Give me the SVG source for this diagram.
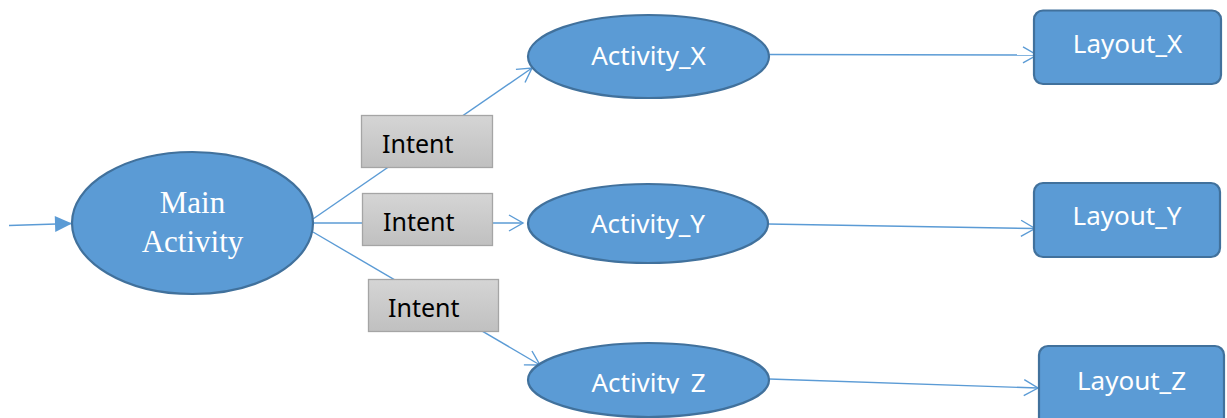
<svg xmlns="http://www.w3.org/2000/svg" width="1227" height="418" viewBox="0 0 1227 418">
  <style>
    .node { fill: #5B9BD5; stroke: #41719C; stroke-width: 2.2; }
    .intent { fill: url(#intentFill); stroke: #A5A5A5; stroke-width: 1.3; }
    .wire { fill: none; stroke: #5B9BD5; stroke-width: 1.4; }
    .label { font-family: "Noto Sans", "Open Sans", sans-serif; font-size: 26px; fill: #FFFFFF; text-anchor: middle; }
    .serif { font-family: "Liberation Serif", "Times New Roman", serif; font-size: 31px; fill: #FFFFFF; text-anchor: middle; }
    .intentText { font-family: "Noto Sans", "Open Sans", sans-serif; font-size: 25px; fill: #000000; }
  </style>
  <defs>
    <linearGradient id="intentFill" x1="0" y1="0" x2="0" y2="1">
      <stop offset="0" stop-color="#D5D5D5"/>
      <stop offset="1" stop-color="#C0C0C0"/>
    </linearGradient>
    <marker id="open" markerUnits="userSpaceOnUse" markerWidth="20" markerHeight="20" refX="0" refY="0" viewBox="-16 -10 18 20" orient="auto">
      <path d="M-14,-8 L0,0 L-14,8" fill="none" stroke="#5B9BD5" stroke-width="1.4"/>
    </marker>
    <marker id="solid" markerUnits="userSpaceOnUse" markerWidth="20" markerHeight="20" refX="0" refY="0" viewBox="-18 -10 20 20" orient="auto">
      <path d="M-17,-8 L0,0 L-17,8 Z" fill="#5B9BD5"/>
    </marker>
    <clipPath id="zClip">
      <rect x="500" y="330" width="300" height="63.5"/>
    </clipPath>
  </defs>

  <!-- connectors -->
  <g id="connectors">
    <line class="wire" x1="9" y1="225.5" x2="72" y2="223.5" marker-end="url(#solid)"/>
    <line class="wire" x1="313" y1="219" x2="532" y2="68" marker-end="url(#open)"/>
    <line class="wire" x1="313" y1="223" x2="523" y2="223" marker-end="url(#open)"/>
    <line class="wire" x1="313" y1="232" x2="540" y2="365" marker-end="url(#open)"/>
    <line class="wire" x1="769" y1="54.5" x2="1037" y2="55" marker-end="url(#open)"/>
    <line class="wire" x1="768" y1="224" x2="1035" y2="228.5" marker-end="url(#open)"/>
    <line class="wire" x1="769" y1="379" x2="1038" y2="388" marker-end="url(#open)"/>
  </g>

  <!-- main activity -->
  <g id="main-activity">
    <ellipse class="node" cx="192.5" cy="223" rx="120.5" ry="71"/>
    <text class="serif" x="192.5" y="213">Main</text>
    <text class="serif" x="192.5" y="252">Activity</text>
  </g>

  <!-- intent boxes -->
  <g id="intent-x">
    <rect class="intent" x="361.5" y="115.5" width="131" height="52"/>
    <text class="intentText" x="382" y="153">Intent</text>
  </g>
  <g id="intent-y">
    <rect class="intent" x="362.5" y="193.5" width="130" height="52"/>
    <text class="intentText" x="383" y="231">Intent</text>
  </g>
  <g id="intent-z">
    <rect class="intent" x="368.5" y="279.5" width="130" height="52"/>
    <text class="intentText" x="388" y="317">Intent</text>
  </g>

  <!-- activities -->
  <g id="activity-x">
    <ellipse class="node" cx="648.5" cy="56.5" rx="120.5" ry="41.5"/>
    <text class="label" x="648.5" y="65">Activity_X</text>
  </g>
  <g id="activity-y">
    <ellipse class="node" cx="648" cy="223.5" rx="120" ry="39.5"/>
    <text class="label" x="648" y="233">Activity_Y</text>
  </g>
  <g id="activity-z">
    <ellipse class="node" cx="648.5" cy="380" rx="120.5" ry="37"/>
    <text class="label" x="648.5" y="392" clip-path="url(#zClip)">Activity_Z</text>
  </g>

  <!-- layouts -->
  <g id="layout-x">
    <rect class="node" x="1034" y="10.5" width="187" height="73.5" rx="9"/>
    <text class="label" x="1127.5" y="53">Layout_X</text>
  </g>
  <g id="layout-y">
    <rect class="node" x="1034" y="183" width="186" height="74" rx="9"/>
    <text class="label" x="1127" y="225">Layout_Y</text>
  </g>
  <g id="layout-z">
    <rect class="node" x="1039" y="346" width="185" height="80" rx="9"/>
    <text class="label" x="1131.5" y="390">Layout_Z</text>
  </g>
</svg>
